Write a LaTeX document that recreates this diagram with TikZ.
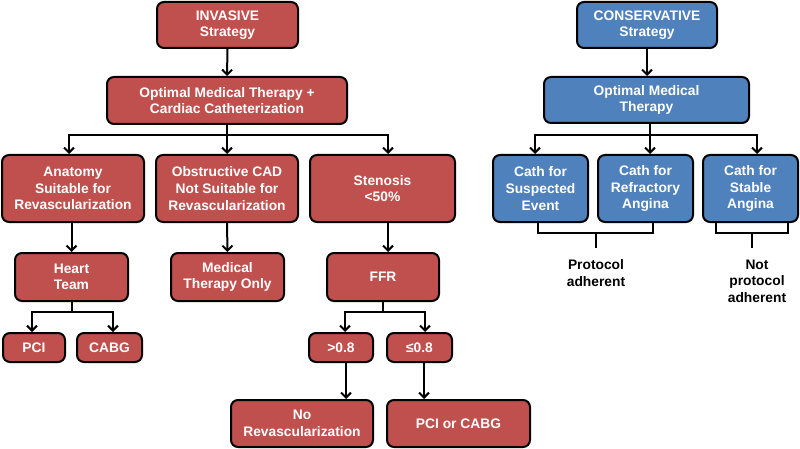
\documentclass[tikz,border=0pt]{standalone}
\usepackage{fontspec}
\setmainfont{Liberation Sans}
\usetikzlibrary{arrows.meta}
\definecolor{redc}{HTML}{C0504D}
\definecolor{bluec}{HTML}{4F81BD}
\begin{document}
\begin{tikzpicture}[x=1pt,y=-1pt,
  rbox/.style={draw=black, line width=2pt, rounded corners=7pt, fill=redc, text=white,
    font=\fontsize{13.8}{16.6}\selectfont\bfseries, align=center, inner sep=0pt},
  bbox/.style={rbox, fill=bluec},
  arr/.style={line width=2pt, -{Straight Barb[length=5pt,width=10pt,line width=2pt]}},
  ln/.style={line width=2pt},
  lbl/.style={font=\fontsize{13.8}{16.6}\selectfont\bfseries, align=center, inner sep=0pt, anchor=north}]
\useasboundingbox (0,0) rectangle (800,449);
% invasive branch
\node[rbox, minimum width=141, minimum height=46] (inv) at (227.5,25) {INVASIVE\\Strategy};
\node[rbox, minimum width=240, minimum height=47] (omt) at (227,100.5) {Optimal Medical Therapy +\\Cardiac Catheterization};
\node[rbox, minimum width=142, minimum height=67] (anat) at (73,188.5) {Anatomy\\Suitable for\\Revascularization};
\node[rbox, minimum width=142, minimum height=67] (obst) at (227,188.5) {Obstructive CAD\\Not Suitable for\\Revascularization};
\node[rbox, minimum width=145, minimum height=67] (sten) at (382.5,188.5) {Stenosis\\<50\%};
\node[rbox, minimum width=113, minimum height=48] (heart) at (71.5,277) {Heart\\Team};
\node[rbox, minimum width=113, minimum height=48] (medonly) at (227.5,277) {Medical\\Therapy Only};
\node[rbox, minimum width=112, minimum height=48] (ffr) at (383,277) {FFR};
\node[rbox, minimum width=62, minimum height=29] (pci) at (34,347.5) {PCI};
\node[rbox, minimum width=65, minimum height=29] (cabg) at (109.5,347.5) {CABG};
\node[rbox, minimum width=64, minimum height=29] (gt) at (341,347.5) {>0.8};
\node[rbox, minimum width=65, minimum height=29] (le) at (419.5,347.5) {≤0.8};
\node[rbox, minimum width=142, minimum height=47] (norev) at (302,423.5) {No\\Revascularization};
\node[rbox, minimum width=143, minimum height=47] (pcicabg) at (458.5,423.5) {PCI or CABG};
% conservative branch
\node[bbox, minimum width=140, minimum height=46] (cons) at (647,25) {CONSERVATIVE\\Strategy};
\node[bbox, minimum width=205, minimum height=46] (comt) at (646.5,100) {Optimal Medical\\Therapy};
\node[bbox, minimum width=95, minimum height=67] (cA) at (540.5,188.5) {Cath for\\Suspected\\Event};
\node[bbox, minimum width=95, minimum height=67] (cB) at (645.5,188.5) {Cath for\\Refractory\\Angina};
\node[bbox, minimum width=95, minimum height=67] (cC) at (750.5,188.5) {Cath for\\Stable\\Angina};
\node[lbl] (prot) at (596,259.5) {Protocol\\adherent};
\node[lbl] (notprot) at (757,259.5) {Not\\protocol\\adherent};
% connectors invasive
\draw[arr] (inv.south) -- (omt.north);
\coordinate (b1) at (227,135);
\draw[ln] (omt.south) -- (b1);
\draw[arr] (b1) -| ([xshift=-4pt]anat.north);
\draw[arr] (b1) -- (obst.north);
\draw[arr] (b1) -| ([xshift=5.5pt]sten.north);
\draw[arr] (heart.north |- anat.south) -- (heart.north);
\draw[arr] (obst.south) -- (medonly.north);
\draw[arr] ([xshift=5pt]ffr.north |- sten.south) -- ([xshift=5pt]ffr.north);
\coordinate (b2) at (71.5,312);
\draw[ln] (heart.south) -- (b2);
\draw[arr] (b2) -| ([xshift=-2pt]pci.north);
\draw[arr] (b2) -| ([xshift=3.5pt]cabg.north);
\coordinate (b3) at (383,312);
\draw[ln] (ffr.south) -- (b3);
\draw[arr] (b3) -| ([xshift=4pt]gt.north);
\draw[arr] (b3) -| ([xshift=5.5pt]le.north);
\draw[arr] ([xshift=5pt]gt.south) -- ([xshift=5pt]gt.south |- norev.north);
\draw[arr] ([xshift=4.5pt]le.south) -- ([xshift=4.5pt]le.south |- pcicabg.north);
% connectors conservative
\draw[arr] (cons.south) -- (cons.south |- comt.north);
\coordinate (b4) at (650,135);
\draw[ln] (b4 |- comt.south) -- (b4);
\draw[arr] (b4) -| ([xshift=-5.5pt]cA.north);
\draw[arr] (b4) -- (b4 |- cB.north);
\draw[arr] (b4) -| ([xshift=6.5pt]cC.north);
% brackets
\coordinate (p1) at (538,233);
\coordinate (p2) at (653,233);
\coordinate (pm) at (596,233);
\draw[ln] (p1 |- cA.south) -- (p1) -- (p2) -- (p2 |- cB.south);
\draw[ln] (pm) -- ++(0,15);
\coordinate (q1) at (716,233);
\coordinate (q2) at (788,233);
\coordinate (qm) at (752,233);
\draw[ln] (q1 |- cC.south) -- (q1) -- (q2) -- (q2 |- cC.south);
\draw[ln] (qm) -- ++(0,15);
\end{tikzpicture}
\end{document}
